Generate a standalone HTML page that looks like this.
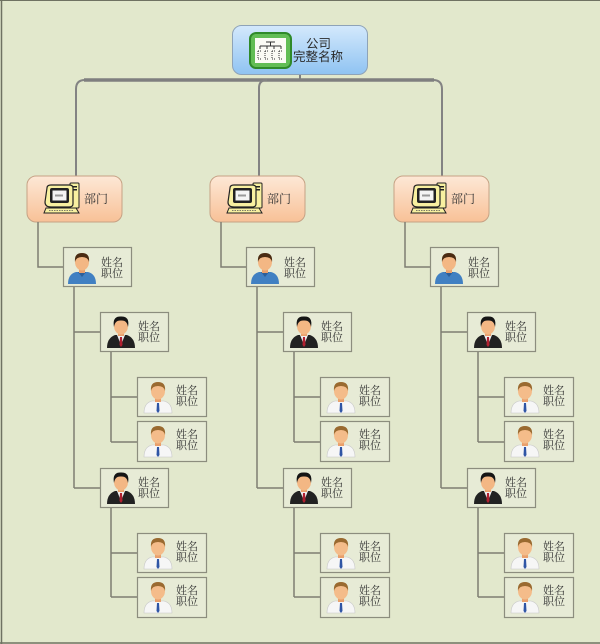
<!DOCTYPE html>
<html><head><meta charset="utf-8"><style>
html,body{margin:0;padding:0;background:#e2e8cc;}
svg{display:block;}
.t{font-family:"Liberation Serif","Noto Serif CJK SC",serif;font-size:11px;fill:#333;}
.r{font-family:"Liberation Sans","Noto Sans CJK SC",sans-serif;font-size:12.5px;fill:#2a2a2a;}
.d{font-family:"Liberation Serif","Noto Serif CJK SC",serif;font-size:12px;fill:#333;}
</style></head><body>
<svg width="600" height="644" viewBox="0 0 600 644" xmlns="http://www.w3.org/2000/svg">
<defs>
<linearGradient id="gb" x1="0" y1="0" x2="0" y2="1"><stop offset="0" stop-color="#d4e9fc"/><stop offset="1" stop-color="#8fc3f2"/></linearGradient>
<linearGradient id="go" x1="0" y1="0" x2="0" y2="1"><stop offset="0" stop-color="#fde8d6"/><stop offset="1" stop-color="#f8c197"/></linearGradient>
<g id="blue">
<path d="M1,33 Q1,23 9,21 L21,21 Q29,23 29,33 Z" fill="#4180c2"/>
<path d="M11,21 L15,26 L19,21 Z" fill="#2d5f99"/>
<rect x="12" y="16" width="6" height="6" fill="#e9a06c"/>
<ellipse cx="15" cy="11" rx="7" ry="8.5" fill="#f3b784"/>
<path d="M8,11 Q7,2 15,2 Q23,2 22,11 Q21,6 15,6 Q9,6 8,11 Z" fill="#4a2b12"/>
</g>
<g id="mgr">
<path d="M1,33 Q1,23 9,20 L21,20 Q29,23 29,33 Z" fill="#222"/>
<path d="M11,20 L15,30 L19,20 Z" fill="#f0f0f0"/>
<path d="M14,22 L16,22 L16.5,30 L15,32 L13.5,30 Z" fill="#b02030"/>
<rect x="12" y="15" width="6" height="6" fill="#e9a06c"/>
<ellipse cx="15" cy="11" rx="7" ry="8.5" fill="#f3b784"/>
<path d="M8,12 Q6,1 15,1.5 Q24,1 22,12 Q21,5 15,5.5 Q9,5 8,12 Z" fill="#151515"/>
</g>
<g id="emp">
<path d="M1,33 Q1,23 9,21 L21,21 Q29,23 29,33 Z" fill="#f6f6f6" stroke="#c8c8c8" stroke-width="0.6"/>
<path d="M14,23 L16,23 L16.5,31 L15,33 L13.5,31 Z" fill="#2f55a5"/>
<rect x="12" y="16" width="6" height="6" fill="#e9a06c"/>
<ellipse cx="15" cy="11" rx="7" ry="8.5" fill="#f4bc8a"/>
<path d="M8,11 Q7,2 15,2 Q23,2 22,11 Q21,6 15,6 Q9,6 8,11 Z" fill="#9a6a30"/>
</g>
<g id="pc">
<rect x="27" y="1" width="9" height="25" rx="1" fill="#f8f0a0" stroke="#222" stroke-width="1"/>
<rect x="29" y="4" width="5" height="1.5" fill="#222"/>
<rect x="29" y="7" width="5" height="1.5" fill="#222"/>
<path d="M4,6 Q4,3 8,3 L26,3 Q30,3 30,6 L30,22 Q30,25 26,25 L8,25 Q2,25 2,20 Z" fill="#f8f0a0" stroke="#222" stroke-width="1.2"/>
<rect x="7" y="6" width="19" height="15" rx="2" fill="#222"/>
<rect x="9.5" y="8.5" width="14" height="10" fill="#f4f4f4"/>
<rect x="12" y="12.5" width="8" height="2" fill="#999"/>
<path d="M3,26 L33,26 L36,31 L1,31 Z" fill="#f8f0a0" stroke="#222" stroke-width="1"/>
<line x1="6" y1="28.5" x2="31" y2="28.5" stroke="#555" stroke-width="0.8" stroke-dasharray="1.5,1"/>
</g>
<g id="col">
<rect x="27" y="176" width="95" height="46" rx="9" fill="url(#go)" stroke="#c6a285" stroke-width="1"/>
<use href="#pc" x="43" y="182"/>
<text class="d" x="84" y="203">部门</text>
<path d="M38,222 L38,267 L63,267" fill="none" stroke="#7e7e72" stroke-width="1.5"/>
<rect x="63.5" y="247.5" width="68" height="39" fill="#e7ebd6" stroke="#8c8d7e" stroke-width="1.2"/>
<use href="#blue" x="67" y="251"/>
<text class="t" x="101" y="266">姓名</text>
<text class="t" x="101" y="277">职位</text>
<path d="M74,287 L74,488 M74,332 L100,332 M74,488 L100,488" fill="none" stroke="#7e7e72" stroke-width="1.5"/>
<rect x="100.5" y="312.5" width="68" height="39" fill="#e7ebd6" stroke="#8c8d7e" stroke-width="1.2"/>
<use href="#mgr" x="106" y="315"/>
<text class="t" x="138" y="330">姓名</text>
<text class="t" x="138" y="341">职位</text>
<rect x="100.5" y="468.5" width="68" height="39" fill="#e7ebd6" stroke="#8c8d7e" stroke-width="1.2"/>
<use href="#mgr" x="106" y="471"/>
<text class="t" x="138" y="486">姓名</text>
<text class="t" x="138" y="497">职位</text>
<path d="M111,352 L111,442 M111,397 L137,397 M111,442 L137,442 M111,508 L111,597 M111,553 L137,553 M111,597 L137,597" fill="none" stroke="#7e7e72" stroke-width="1.5"/>
<rect x="137.5" y="377.5" width="69" height="39" fill="#e7ebd6" stroke="#8c8d7e" stroke-width="1.2"/>
<use href="#emp" x="143" y="380"/>
<text class="t" x="176" y="394">姓名</text>
<text class="t" x="176" y="405">职位</text>
<rect x="137.5" y="421.5" width="69" height="40" fill="#e7ebd6" stroke="#8c8d7e" stroke-width="1.2"/>
<use href="#emp" x="143" y="424"/>
<text class="t" x="176" y="438">姓名</text>
<text class="t" x="176" y="449">职位</text>
<rect x="137.5" y="533.5" width="69" height="39" fill="#e7ebd6" stroke="#8c8d7e" stroke-width="1.2"/>
<use href="#emp" x="143" y="536"/>
<text class="t" x="176" y="550">姓名</text>
<text class="t" x="176" y="561">职位</text>
<rect x="137.5" y="577.5" width="69" height="40" fill="#e7ebd6" stroke="#8c8d7e" stroke-width="1.2"/>
<use href="#emp" x="143" y="580"/>
<text class="t" x="176" y="594">姓名</text>
<text class="t" x="176" y="605">职位</text>
</g>
</defs>
<rect x="0" y="0" width="600" height="644" fill="#e2e8cc"/>
<line x1="0" y1="0.5" x2="600" y2="0.5" stroke="#6f7262" stroke-width="1"/>
<line x1="1.5" y1="0" x2="1.5" y2="644" stroke="#6f7262" stroke-width="1.5"/>
<line x1="0" y1="643" x2="600" y2="643" stroke="#6f7262" stroke-width="1.5"/>
<!-- top connectors -->
<path d="M76,177 L76,89 Q76,80 85,80 L433,80 Q442,80 442,89 L442,177" fill="none" stroke="#838383" stroke-width="2"/>
<line x1="84" y1="80" x2="434" y2="80" stroke="#7f7f7f" stroke-width="3.5"/>
<path d="M259,177 L259,88 Q259,80 267,80" fill="none" stroke="#838383" stroke-width="2"/>
<line x1="300" y1="74" x2="300" y2="80" stroke="#7f7f7f" stroke-width="2"/>
<!-- root -->
<rect x="232.5" y="25.5" width="135" height="49" rx="9" fill="url(#gb)" stroke="#8ea3b8" stroke-width="1"/>
<rect x="250" y="33" width="41" height="35" rx="6" fill="#62bd55" stroke="#2f8a2a" stroke-width="2"/>
<rect x="255" y="38" width="31" height="25" fill="#fbfbf5"/>
<g stroke="#333" stroke-width="1" fill="none">
<path d="M266,42 L275,42 M270.5,42 L270.5,46 M260,46 L281,46 M260,46 L260,49 M267,46 L267,49 M274,46 L274,49 M281,46 L281,49"/>
<path d="M258,51 L262,51 M265,51 L269,51 M272,51 L276,51 M279,51 L283,51" stroke-dasharray="1,1"/>
<path d="M258,51 L258,59 M265,51 L265,59 M272,51 L272,59 M279,51 L279,59" stroke-dasharray="1,1"/>
<path d="M258,59 L262,59 M265,59 L269,59 M272,59 L276,59 M279,59 L283,59" stroke-dasharray="1,1"/>
</g>
<text class="r" x="306" y="48">公司</text>
<text class="r" x="293" y="61">完整名称</text>
<!-- columns -->
<use href="#col" x="0" y="0"/>
<use href="#col" x="183" y="0"/>
<use href="#col" x="367" y="0"/>
</svg>
</body></html>
